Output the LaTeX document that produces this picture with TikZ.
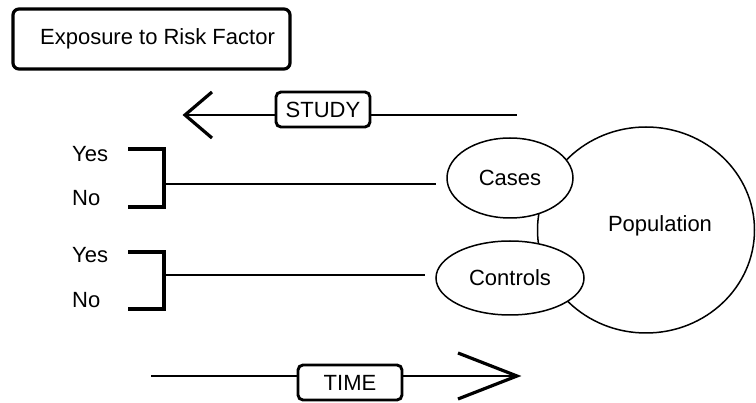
\documentclass[tikz,border=0pt]{standalone}
\usepackage{fontspec}
\setmainfont{Liberation Sans}
\usetikzlibrary{shapes.geometric}
\begin{document}
\begin{tikzpicture}[x=1pt,y=-1pt,
  txt/.style={font=\fontsize{22}{26}\selectfont, inner sep=0pt},
  heavy/.style={line width=3.2pt},
  medium/.style={line width=2.7pt},
  fine/.style={line width=1.5pt},
  tagbox/.style={draw, line width=2.9pt, rounded corners=5pt, minimum height=35pt, inner sep=0pt, fill=white, font=\fontsize{22}{26}\selectfont},
  oval/.style={draw, fine, ellipse, fill=white, inner sep=0pt, font=\fontsize{22}{26}\selectfont}]
\useasboundingbox (0,0) rectangle (756,403);
\clip (0,0) rectangle (756,403);

% title box
\node[draw, heavy, rounded corners=6pt, minimum width=277pt, minimum height=60pt, inner sep=0pt,
      font=\fontsize{22}{26}\selectfont] (expo) at (151.5,39) {\hspace{12pt}Exposure to Risk Factor};

% STUDY arrow
\node[tagbox, minimum width=94pt] (study) at (323,109.5) {STUDY};
\coordinate (stip) at (185,115);
\coordinate (send) at (517,115);
\draw[medium] (stip) -- (stip -| study.west);
\draw[medium] (study.east |- send) -- (send);
\draw[heavy, line join=miter] (212,92) -- (stip) -- (212,138);

% population and groups
\node[draw, fine, ellipse, minimum width=217pt, minimum height=206pt, inner sep=0pt] (pop) at (646,230) {};
\node[txt] (poptxt) at (660,226) {Population};
\node[oval, minimum width=126pt, minimum height=80pt] (cases) at (510,178) {Cases\hspace{16pt}};
\node[oval, minimum width=148pt, minimum height=74pt] (controls) at (510,278) {Controls};

% Yes / No labels
\node[txt, anchor=base west] (y1) at (72,162) {Yes};
\node[txt, anchor=base west] (n1) at (72,206) {No};
\node[txt, anchor=base west] (y2) at (72,263) {Yes};
\node[txt, anchor=base west] (n2) at (72,308) {No};

% brackets
\draw[heavy, line join=miter] (128,149) -- (164,149) -- (164,207) -- (128,207);
\draw[heavy, line join=miter] (128,252) -- (164,252) -- (164,309) -- (128,309);
\coordinate (b1) at (164,184);
\coordinate (b2) at (164,275);
\draw[medium] (b1) -- ([xshift=-10pt]cases.west |- b1);
\draw[medium] (b2) -- ([xshift=-10pt]controls.west |- b2);

% TIME arrow
\node[tagbox, minimum width=104pt] (time) at (350,382.5) {TIME};
\coordinate (tstart) at (151,376);
\coordinate (ttip) at (517,376);
\draw[medium] (tstart) -- (tstart -| time.west);
\draw[medium] (time.east |- ttip) -- (ttip);
\draw[heavy, line join=miter] (458,353) -- (ttip) -- (458,399);
\end{tikzpicture}
\end{document}
